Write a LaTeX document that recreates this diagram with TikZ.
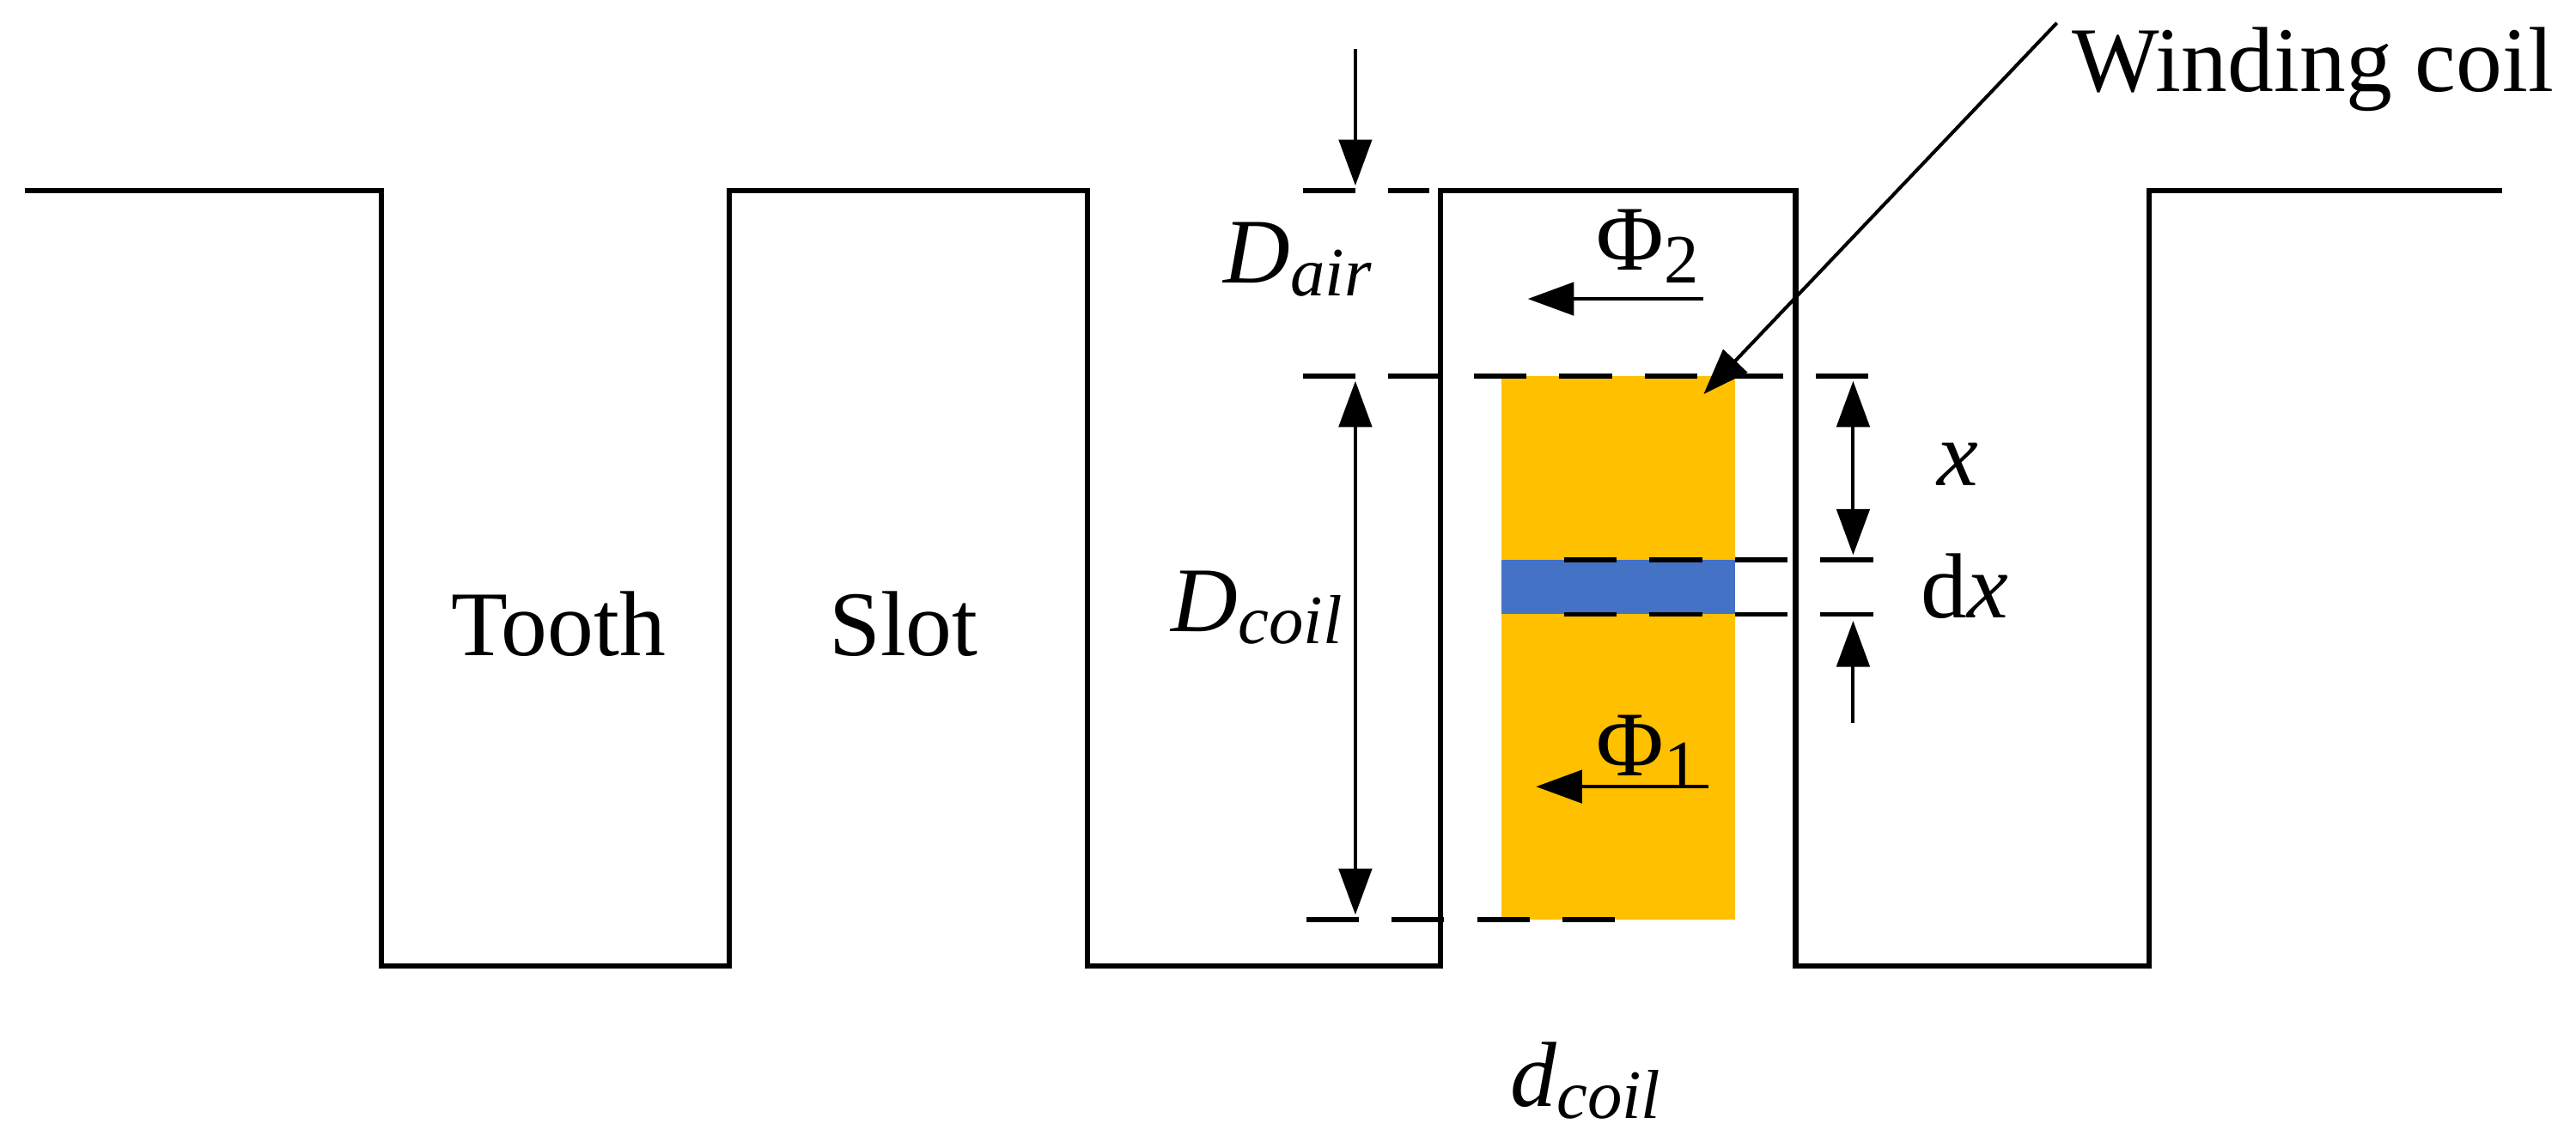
\documentclass[tikz,border=0pt]{standalone}
\usepackage{fontspec}
\setmainfont{Liberation Serif}
\usetikzlibrary{arrows.meta}
\newcommand{\sbs}[1]{\raisebox{-0.3ex}{\fontsize{12}{14}\selectfont #1}}
\begin{document}
\begin{tikzpicture}[x=0.01cm,y=-0.01cm,
  prof/.style={line width=0.9pt},
  dl/.style={line width=0.8pt,dash pattern=on 0.32cm off 0.2cm},
  arr/.style={line width=0.6pt,-{Triangle[length=0.28cm,width=0.2cm]}},
  darr/.style={line width=0.6pt,{Triangle[length=0.28cm,width=0.2cm]}-{Triangle[length=0.28cm,width=0.2cm]}},
  lbl/.style={font=\fontsize{16}{19}\selectfont,inner sep=0pt}]
\useasboundingbox (0,0) rectangle (1568,695);
\fill[fill={rgb,255:red,255;green,192;blue,0}] (914,229) rectangle (1056,560);
\fill[fill={rgb,255:red,68;green,114;blue,196}] (914,341) rectangle (1056,374);
\draw[prof] (15,116) -- (232,116) -- (232,588) -- (444,588) -- (444,116) -- (662,116) -- (662,588) -- (877,588) -- (877,116) -- (1093,116) -- (1093,588) -- (1308,588) -- (1308,116) -- (1523,116);
\draw[dl] (793,116) -- (870,116);
\draw[dl] (793,229) -- (1155,229);
\draw[dl] (952,341) -- (1155,341);
\draw[dl] (952,374) -- (1155,374);
\draw[dl] (795,560) -- (1000,560);
\coordinate (a0) at (825,30); \coordinate (a1) at (825,113);
\draw[arr] (a0) -- (a1);
\coordinate (c0) at (825,232); \coordinate (c1) at (825,557);
\draw[darr] (c0) -- (c1);
\coordinate (x0) at (1128,232); \coordinate (x1) at (1128,338);
\draw[darr] (x0) -- (x1);
\coordinate (u0) at (1128,440); \coordinate (u1) at (1128,378);
\draw[arr] (u0) -- (u1);
\coordinate (p20) at (1037,182); \coordinate (p21) at (930,182);
\draw[arr] (p20) -- (p21);
\coordinate (p10) at (1040,479); \coordinate (p11) at (935,479);
\draw[arr] (p10) -- (p11);
\node[lbl] (wc) at (1408,42) {Winding coil};
\coordinate (wp) at (1037,240);
\coordinate (ws) at (1252,14);
\draw[arr] (ws) -- (wp);
\node[lbl] (tooth) at (340,380) {Tooth};
\node[lbl] (slot) at (550,380) {Slot};
\node[lbl] (dair) at (790,158) {\textit{D}\sbs{\textit{air}}};
\node[lbl] (dcoil) at (765,370) {\textit{D}\sbs{\textit{coil}}};
\node[lbl] (p2) at (1003,150) {Φ\sbs{2}};
\node[lbl] (p1) at (1003,458) {Φ\sbs{1}};
\node[lbl] (x) at (1192,283) {\textit{x}};
\node[lbl] (dx) at (1196,357) {d\textit{x}};
\node[lbl] (dc) at (965,658) {\textit{d}\sbs{\textit{coil}}};
\end{tikzpicture}
\end{document}
